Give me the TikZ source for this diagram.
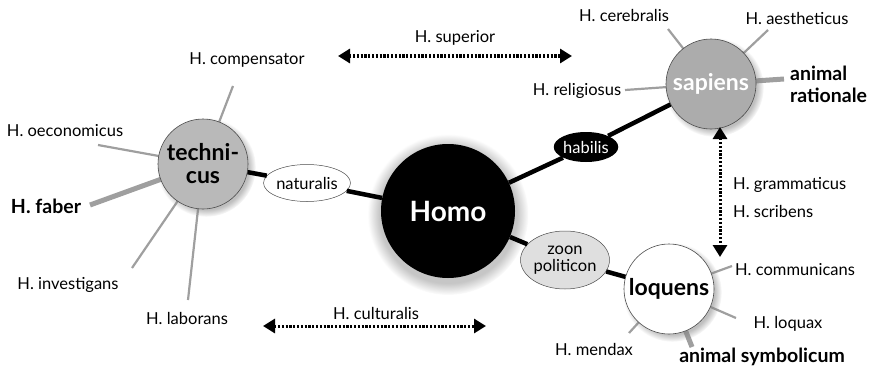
\documentclass[tikz,border=0pt]{standalone}
\usepackage{fontspec}
\setmainfont{Lato}
\usetikzlibrary{shadows,arrows.meta,shapes.geometric}
\begin{document}
\begin{tikzpicture}[x=1pt,y=-1pt,
  lbl/.style={font=\fontsize{16.5}{18}\selectfont, inner sep=0pt},
  blbl/.style={font=\fontsize{19.5}{22}\selectfont\bfseries, inner sep=0pt},
  spoke/.style={draw=gray!75, line width=2.2pt},
  thickspoke/.style={draw=gray!75, line width=5pt},
  link/.style={draw=black, line width=4.5pt},
  dbl/.style={line width=3pt, dash pattern=on 2.2pt off 1.6pt, {Triangle[width=14pt,length=12pt]}-{Triangle[width=14pt,length=12pt]}},
  bigc/.style={circle, draw=black!70, line width=0.6pt, minimum size=90pt, inner sep=0pt, circular drop shadow={shadow xshift=3pt, shadow yshift=-3pt, opacity=0.5}},
  bigt/.style={font=\fontsize{23}{23}\selectfont\bfseries},
  elt/.style={font=\fontsize{16.5}{17}\selectfont},
]
\useasboundingbox (0,0) rectangle (874,369);

% spoke endpoints
\coordinate (comp) at (233,86);
\coordinate (oec) at (98,145);
\coordinate (fab) at (90,205);
\coordinate (inv) at (132,268);
\coordinate (lab) at (188,300);
\coordinate (cer) at (668,29);
\coordinate (aes) at (768,30);
\coordinate (rel) at (625,90);
\coordinate (rat) at (784,79);
\coordinate (com) at (732,266);
\coordinate (loq) at (736,318);
\coordinate (sym) at (692,347);
\coordinate (men) at (629,333);
\coordinate (tc) at (203,164);
\coordinate (sc) at (711,84);
\coordinate (lc) at (669,289);

% spoke lines drawn under circles
\draw[spoke] (comp) -- (tc);
\draw[spoke] (oec) -- (tc);
\draw[thickspoke] (fab) -- (tc);
\draw[spoke] (inv) -- (tc);
\draw[spoke] (lab) -- (tc);
\draw[spoke] (cer) -- (sc);
\draw[spoke] (aes) -- (sc);
\draw[spoke] (rel) -- (sc);
\draw[thickspoke] (rat) -- (sc);
\draw[spoke] (com) -- (lc);
\draw[spoke] (loq) -- (lc);
\draw[thickspoke] (sym) -- (lc);
\draw[spoke] (men) -- (lc);

% main nodes
\node[circle, fill=black, minimum size=134pt, inner sep=0pt, circular drop shadow={shadow scale=1.2, shadow xshift=0pt, shadow yshift=-3pt, opacity=0.45}, font=\fontsize{28}{30}\selectfont\bfseries, text=white] (homo) at (448,211) {Homo};

\node[bigc, fill=gray!55, bigt, align=center] (tech) at (tc) {techni-\\cus};
\node[bigc, fill=gray!65, bigt, text=white] (sap) at (sc) {sapiens};
\node[bigc, fill=white, bigt] (loqn) at (lc) {loquens};

\node[ellipse, draw=black!70, line width=0.5pt, fill=white, minimum width=79pt, minimum height=37pt, inner sep=0pt, elt] (nat) at (307,183) {naturalis};
\node[ellipse, fill=black, minimum width=60pt, minimum height=30pt, inner sep=0pt, text=white, elt] (hab) at (586,147) {habilis};
\node[ellipse, draw=black!70, line width=0.5pt, fill=gray!25, minimum width=76pt, minimum height=58pt, inner sep=0pt, align=center, elt] (zoon) at (565,260) {zoon\\politicon};

% links
\draw[link] (tech) -- (nat);
\draw[link] (nat) -- (homo);
\draw[link] (homo) -- (hab);
\draw[link] (hab) -- (sap);
\draw[link] (homo) -- (zoon);
\draw[link] (zoon) -- (loqn);

% labels
\node[lbl] (Lcomp) at (247,60) {H. compensator};
\node[lbl] (Loec) at (65,131) {H. oeconomicus};
\node[blbl] (Lfab) at (46,206) {H. faber};
\node[lbl] (Linv) at (68,285) {H. investigans};
\node[lbl] (Llab) at (187,318) {H. laborans};
\node[lbl] (Lcer) at (624,15) {H. cerebralis};
\node[lbl] (Laes) at (797,18) {H. aestheticus};
\node[lbl] (Lrel) at (577,91) {H. religiosus};
\node[blbl, align=left, anchor=west] (Lrat) at (790,84) {animal\\rationale};
\node[lbl] (Lcom) at (795,270) {H. communicans};
\node[lbl] (Lloq) at (788,324) {H. loquax};
\node[blbl] (Lsym) at (762,357) {animal symbolicum};
\node[lbl] (Lmen) at (594,349) {H. mendax};

% dotted arrows
\coordinate (supL) at (338,56);
\coordinate (supR) at (572,56);
\draw[dbl] (supL) -- (supR);
\node[lbl] (Lsup) at (455,38) {H. superior};
\coordinate (culL) at (263,326);
\coordinate (culR) at (486,326);
\draw[dbl] (culL) -- (culR);
\node[lbl] (Lcul) at (376,313) {H. culturalis};
\coordinate (vT) at (720,127);
\coordinate (vB) at (720,257);
\draw[dbl] (vT) -- (vB);
\node[lbl, anchor=west] (Lgram) at (733,185) {H. grammaticus};
\node[lbl, anchor=west] (Lscr) at (733,211) {H. scribens};
\end{tikzpicture}
\end{document}
